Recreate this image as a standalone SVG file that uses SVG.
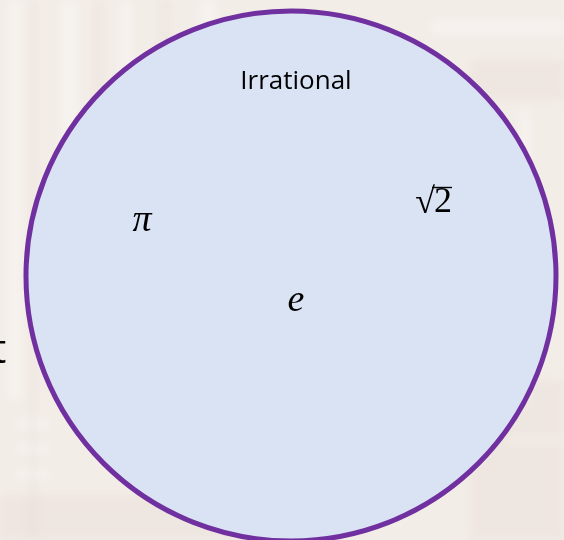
<svg xmlns="http://www.w3.org/2000/svg" width="564" height="540" viewBox="0 0 564 540">
  <defs>
    <filter id="blur" x="-10%" y="-10%" width="120%" height="120%">
      <feGaussianBlur stdDeviation="5"/>
    </filter>
    <style>
      .math { font-family: "Liberation Serif", "DejaVu Serif", serif; font-style: italic; font-size: 38px; fill: #000; }
      .label { font-family: "Open Sans", "Noto Sans", sans-serif; font-size: 26px; fill: #000; }
      .bgs { fill: #ffffff; opacity: 0.3; }
      .bgd { fill: #d9c8bd; opacity: 0.18; }
    </style>
  </defs>
  <g id="background">
    <rect x="0" y="0" width="564" height="540" fill="#f3ede8"/>
    <g filter="url(#blur)">
      <rect class="bgs" x="8" y="0" width="14" height="400"/>
      <rect class="bgd" x="30" y="0" width="6" height="540"/>
      <rect class="bgs" x="60" y="0" width="18" height="300"/>
      <rect class="bgd" x="95" y="0" width="8" height="260"/>
      <rect class="bgs" x="120" y="0" width="12" height="200"/>
      <rect class="bgd" x="160" y="0" width="10" height="120"/>
      <rect class="bgs" x="200" y="0" width="16" height="100"/>
      <rect class="bgs" x="430" y="20" width="134" height="14"/>
      <rect class="bgd" x="470" y="60" width="94" height="40"/>
      <rect class="bgs" x="520" y="110" width="10" height="300"/>
      <rect class="bgs" x="15" y="420" width="35" height="8"/>
      <rect class="bgs" x="15" y="445" width="35" height="8"/>
      <rect class="bgs" x="15" y="470" width="35" height="8"/>
      <rect class="bgd" x="0" y="495" width="260" height="45"/>
      <rect class="bgs" x="505" y="435" width="59" height="10"/>
      <rect class="bgd" x="470" y="380" width="94" height="160"/>
    </g>
    <text x="-8" y="363" font-family="'Open Sans', 'Noto Sans', sans-serif" font-size="40" fill="#000">t</text>
  </g>
  <g id="irrational-set">
    <circle cx="291" cy="276" r="265" fill="#dae3f3" stroke="#7030a0" stroke-width="5"/>
    <text class="label" x="296" y="89" text-anchor="middle">Irrational</text>
  </g>
  <g id="pi">
    <text class="math" x="142" y="231" text-anchor="middle">π</text>
  </g>
  <g id="e">
    <text class="math" x="296" y="311" text-anchor="middle">e</text>
  </g>
  <g id="sqrt2">
    <text x="435" y="213" text-anchor="end" font-family="'Liberation Serif', 'DejaVu Serif', serif" font-size="36" fill="#000">√</text>
    <text x="434" y="212" font-family="'Liberation Serif', 'DejaVu Serif', serif" font-size="36" fill="#000">2</text>
    <line x1="432" y1="187.5" x2="452" y2="187.5" stroke="#000" stroke-width="1.4"/>
  </g>
</svg>
